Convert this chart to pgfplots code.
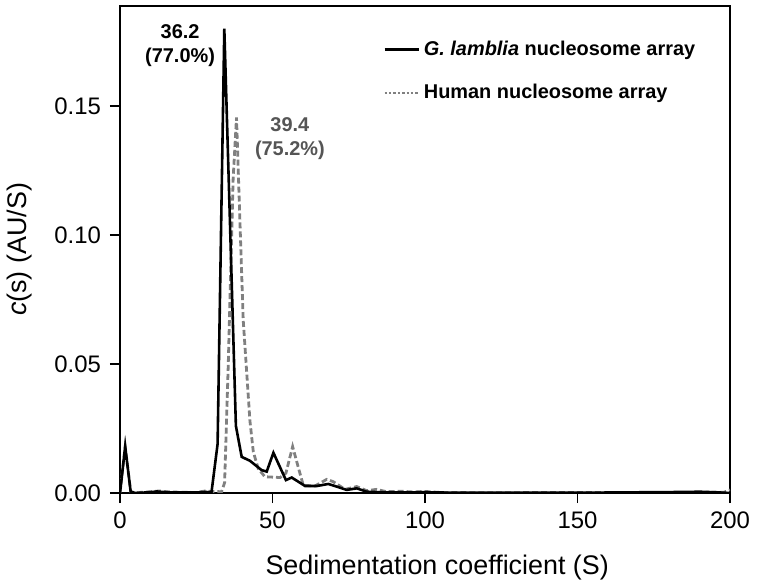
\documentclass[border=0pt]{standalone}
\usepackage{pgfplots}
\pgfplotsset{compat=1.18}
\usepackage{fontspec}
\setmainfont{Liberation Sans}
\definecolor{dgray}{RGB}{128,128,128}
\definecolor{lblgray}{RGB}{85,85,85}

\pgfplotstableread{
s c
0 0
1.7 0.018
3.5 0.0005
5 0
10 0.0003
12 0.0006
15 0.0003
20 0.0002
25 0.0002
28 0.0004
30 0.0003
32 0.019
34.2 0.180
38.0 0.026
39.9 0.014
42.6 0.0125
46.4 0.0089
48.1 0.0083
50.3 0.0156
54.4 0.005
56.3 0.006
60.7 0.0027
64.5 0.0027
68.3 0.0035
71 0.0025
74.3 0.0012
77.6 0.0018
80.9 0.0005
85 0.0003
90 0.0002
100 0.0003
110 0.0001
150 0.0001
185 0.0004
190 0.0005
195 0.0003
200 0
}\lamblia

\pgfplotstableread{
s c
0 0
1.7 0.018
3.5 0.0005
5 0.0001
10 0.0005
13 0.0008
16 0.0004
20 0.0003
25 0.0002
28 0.0008
30 0.0006
33.3 0.0005
34.3 0.004
35.5 0.05
37.1 0.122
38.2 0.1456
39.3 0.106
40.4 0.067
42.6 0.028
43.7 0.016
45.3 0.0095
47.5 0.0063
52.5 0.006
54.4 0.0077
56.6 0.018
59 0.0076
60.1 0.003
63.9 0.0027
67.8 0.0053
69.9 0.0044
73.8 0.0014
77.6 0.0025
80.9 0.0009
84.1 0.0014
87.4 0.0005
92 0.0007
96 0.0004
100 0.0006
105 0.0002
120 0.0001
150 0.0002
180 0.0001
198 0.0003
200 0.0012
}\human

\begin{document}
\begin{tikzpicture}
\begin{axis}[
scale only axis,
width=305bp,
height=243.5bp,
xmin=0, xmax=200,
ymin=0, ymax=0.1888,
xtick={0,50,100,150,200},
ytick={0,0.05,0.10,0.15},
yticklabel style={/pgf/number format/fixed,/pgf/number format/fixed zerofill,/pgf/number format/precision=2},
/pgf/number format/assume math mode=true,
tick align=outside,
xtick pos=bottom, ytick pos=left,
major tick length=5bp,
tick style={black, line width=0.8pt},
axis line style={line width=0.8pt},
ticklabel style={font=\fontsize{12}{14}\selectfont},
xticklabel style={yshift=-1bp},
yticklabel style={xshift=-1bp},
xlabel={Sedimentation coefficient (S)},
ylabel={\textit{c}(s) (AU/S)},
every axis x label/.style={at={(axis description cs:0.52,0)}, yshift=-37.5bp, anchor=center,
  font=\fontsize{13.5}{16}\selectfont},
every axis y label/.style={at={(axis description cs:0,0.5)}, xshift=-50bp, rotate=90, anchor=center,
  font=\fontsize{13.5}{16}\selectfont},
legend style={draw=none, fill=none, inner sep=0pt, at={(0.431,0.938)}, anchor=north west,
  font=\fontsize{10}{12}\selectfont\bfseries, row sep=9bp,
  legend cell align=left},
legend image code/.code={\draw[#1] (0bp,0bp) -- (17bp,0bp);},
]
\addplot[dgray, line width=1.4pt, dash pattern=on 3pt off 1.5pt, forget plot] table[x=s,y=c] {\human};
\addplot[black, line width=1.3pt, forget plot] table[x=s,y=c] {\lamblia};
\addlegendimage{black, line width=1.3pt}
\addlegendentry{\textit{G. lamblia} nucleosome array}
\addlegendimage{dgray, line width=1pt, dash pattern=on 1.2pt off 1pt}
\addlegendentry{Human nucleosome array}
\node[font=\fontsize{10}{12}\selectfont\bfseries, align=center, black] at (axis cs:19.7,0.1734) {36.2\\(77.0\%)};
\node[font=\fontsize{10}{12}\selectfont\bfseries, align=center, lblgray] at (axis cs:55.7,0.1375) {39.4\\(75.2\%)};
\end{axis}
\pgfresetboundingbox
\path[use as bounding box] (-60bp,-46bp) rectangle (318.5bp,246.5bp);
\end{tikzpicture}
\end{document}
